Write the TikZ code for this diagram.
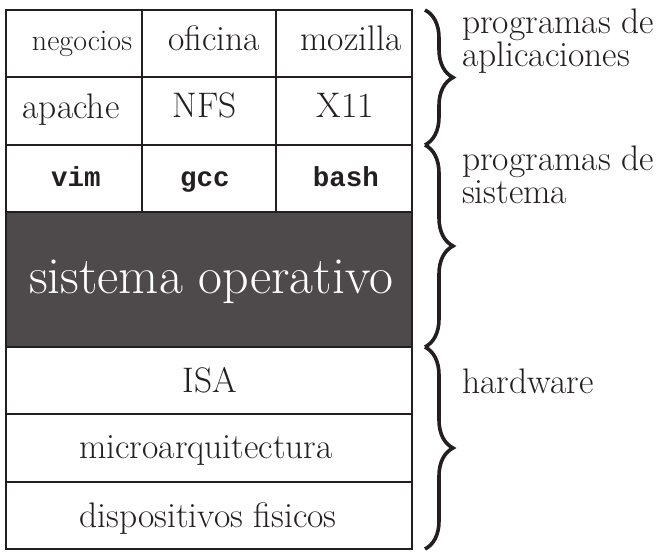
\documentclass[tikz,border=0pt]{standalone}
\usepackage{fontspec}
\newfontfamily\codefont{Liberation Mono}
\usetikzlibrary{decorations.pathreplacing}

\definecolor{ink}{RGB}{35,31,32}
\definecolor{osgray}{RGB}{78,74,75}

\tikzset{
    celltext/.style={anchor=base, inner sep=0pt, text=ink, font=\fontsize{35.5}{35.5}\selectfont},
    codetext/.style={anchor=base, inner sep=0pt, text=ink, font=\codefont\bfseries\fontsize{27.5}{27.5}\selectfont},
    sidetext/.style={anchor=base west, inner sep=0pt, align=left, text=ink, font=\fontsize{35.5}{33}\selectfont},
    layerbrace/.style={draw=ink, decorate, decoration={brace, amplitude=28pt}, line width=3.6pt},
}

\begin{document}
\begin{tikzpicture}[x=1pt, y=-1pt]
    \useasboundingbox (0,0) rectangle (664,558);

    \fill[osgray] (6,212) rectangle (412,347);

    \draw[ink, line width=2.2pt] (6,77) -- (412,77);
    \draw[ink, line width=2.2pt] (6,145) -- (412,145);
    \draw[ink, line width=2.2pt] (6,212) -- (412,212);
    \draw[ink, line width=2.2pt] (6,347) -- (412,347);
    \draw[ink, line width=2.2pt] (6,414) -- (412,414);
    \draw[ink, line width=2.2pt] (6,482) -- (412,482);
    \draw[ink, line width=2.2pt] (142,10) -- (142,212);
    \draw[ink, line width=2.2pt] (276,10) -- (276,212);
    \draw[ink, line width=2.2pt] (6,10) rectangle (412,549);

    \node[celltext, font=\fontsize{30}{30}\selectfont] (negocios) at (82,50) {negocios};
    \node[celltext] (oficina) at (214,50) {oficina};
    \node[celltext] (mozilla) at (351,50) {mozilla};

    \node[celltext] (apache) at (71,118) {apache};
    \node[celltext] (nfs) at (205,117) {NFS};
    \node[celltext] (xonce) at (345,117) {X11};

    \node[codetext] (vim) at (76,186) {vim};
    \node[codetext] (gcc) at (205,186) {gcc};
    \node[codetext] (bash) at (346,186) {bash};

    \node[celltext, text=white, font=\fontsize{52}{52}\selectfont] (so) at (211,293) {sistema operativo};

    \node[celltext] (isa) at (210,392) {ISA};
    \node[celltext] (micro) at (206,458) {microarquitectura};
    \node[celltext] (fisicos) at (208,527) {dispositivos fisicos};

    \coordinate (b0) at (425,10);
    \coordinate (b1) at (425,145);
    \coordinate (b2) at (425,347);
    \coordinate (b3) at (425,549);
    \draw[layerbrace] (b0) -- (b1);
    \draw[layerbrace] (b1) -- (b2);
    \draw[layerbrace] (b2) -- (b3);

    \node[sidetext] (aplic) at (462,66) {programas de\\aplicaciones};
    \node[sidetext] (sist) at (462,203) {programas de\\sistema};
    \node[sidetext] (hw) at (462,393) {hardware};
\end{tikzpicture}
\end{document}
